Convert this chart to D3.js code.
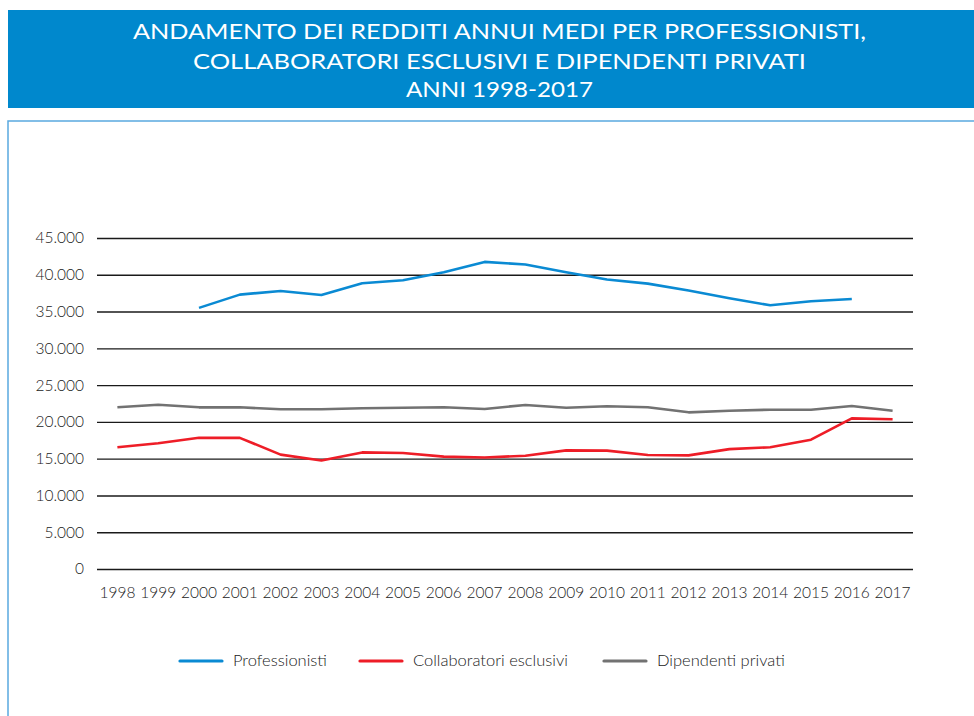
<!DOCTYPE html>
<html>
<head>
<meta charset="utf-8">
<script src="https://cdn.jsdelivr.net/npm/d3@7/dist/d3.min.js"></script>
<style>
  html, body { margin: 0; padding: 0; background: #fff; }
  svg { display: block; }
</style>
</head>
<body>
<svg id="chart" width="974" height="716"></svg>
<script>
// Years on the horizontal axis
const years = ["1998","1999","2000","2001","2002","2003","2004","2005","2006","2007",
               "2008","2009","2010","2011","2012","2013","2014","2015","2016","2017"];

// Average yearly income (euro); null where no value is available
const professionisti = [null, null, 35500, 37300, 37800, 37250, 38850, 39250, 40350, 41750,
                        41400, 40350, 39350, 38800, 37850, 36800, 35850, 36400, 36700, null];
const collaboratori  = [16550, 17100, 17850, 17830, 15550, 14750, 15850, 15770, 15280, 15150,
                        15400, 16130, 16090, 15500, 15450, 16300, 16550, 17580, 20480, 20350];
const dipendenti     = [21980, 22340, 21980, 21980, 21720, 21710, 21850, 21930, 21980, 21760,
                        22300, 21930, 22120, 21980, 21300, 21520, 21660, 21660, 22160, 21520];

const yTicks = [0, 5000, 10000, 15000, 20000, 25000, 30000, 35000, 40000, 45000];

const titleLines = [
  "ANDAMENTO DEI REDDITI ANNUI MEDI PER PROFESSIONISTI,",
  "COLLABORATORI ESCLUSIVI E DIPENDENTI PRIVATI",
  "ANNI 1998-2017"
];

const seriesNames  = ["Professionisti", "Collaboratori esclusivi", "Dipendenti privati"];
const seriesColors = ["#0a8ad3", "#ee1d27", "#727272"];
const seriesData   = [professionisti, collaboratori, dipendenti];

const svg = d3.select("#chart");
const font = "Lato, 'Open Sans', sans-serif";

// Title banner
svg.append("rect").attr("x", 8).attr("y", 10).attr("width", 980).attr("height", 98)
  .attr("fill", "#0088cd");
const titleBaselines = [38.5, 68.5, 97];
const titleWidths = [733, 613, 187];
titleLines.forEach((t, i) => {
  svg.append("text")
    .attr("x", 499.5).attr("y", titleBaselines[i])
    .attr("text-anchor", "middle")
    .attr("font-family", font).attr("font-size", 22).attr("font-weight", 400)
    .attr("fill", "#fff")
    .attr("textLength", titleWidths[i]).attr("lengthAdjust", "spacingAndGlyphs")
    .text(t);
});

// Chart frame
svg.append("rect").attr("x", 8).attr("y", 121).attr("width", 1000).attr("height", 700)
  .attr("fill", "none").attr("stroke", "#5aa9df").attr("stroke-width", 1.5);

// Plot area
const plotLeft = 97, plotRight = 913, plotTop = 238, plotBottom = 569;
const x = d3.scaleBand().domain(years).range([plotLeft, plotRight]);
const y = d3.scaleLinear().domain([0, 45000]).range([plotBottom, plotTop]);
const xc = d => x(d) + x.bandwidth() / 2;

const it = d3.formatLocale({ decimal: ",", thousands: ".", grouping: [3], currency: ["", " €"] });
const fmt = it.format(",");

// Horizontal gridlines with value labels
const yAxis = svg.append("g")
  .attr("transform", `translate(${plotLeft},0)`)
  .call(d3.axisLeft(y).tickValues(yTicks).tickSize(-(plotRight - plotLeft)).tickPadding(13).tickFormat(fmt));
yAxis.select(".domain").remove();
yAxis.selectAll(".tick line").attr("stroke", "#1a1a1a").attr("stroke-width", 1.4);
yAxis.selectAll(".tick text")
  .attr("font-family", font).attr("font-size", 15.5).attr("font-weight", 300).attr("fill", "#222");

// Year labels
const xAxis = svg.append("g")
  .attr("transform", `translate(0,${plotBottom})`)
  .call(d3.axisBottom(x).tickSize(0).tickPadding(18));
xAxis.select(".domain").remove();
xAxis.selectAll(".tick text")
  .attr("font-family", font).attr("font-size", 15.5).attr("font-weight", 300).attr("fill", "#222");

// Series lines
const line = d3.line()
  .defined(d => d.v != null)
  .x(d => xc(d.year))
  .y(d => y(d.v));

seriesData.forEach((vals, i) => {
  const pts = years.map((yr, j) => ({ year: yr, v: vals[j] }));
  svg.append("path")
    .datum(pts)
    .attr("d", line)
    .attr("fill", "none")
    .attr("stroke", seriesColors[i])
    .attr("stroke-width", 2.6)
    .attr("stroke-linejoin", "round");
});

// Legend
const legendX = [180, 360, 604];
const legend = svg.append("g");
seriesNames.forEach((name, i) => {
  legend.append("line")
    .attr("x1", legendX[i]).attr("x2", legendX[i] + 42)
    .attr("y1", 661).attr("y2", 661)
    .attr("stroke", seriesColors[i]).attr("stroke-width", 3.2)
    .attr("stroke-linecap", "round");
  legend.append("text")
    .attr("x", legendX[i] + 53).attr("y", 666)
    .attr("font-family", font).attr("font-size", 16.5).attr("font-weight", 300).attr("fill", "#222")
    .text(name);
});
</script>
</body>
</html>
